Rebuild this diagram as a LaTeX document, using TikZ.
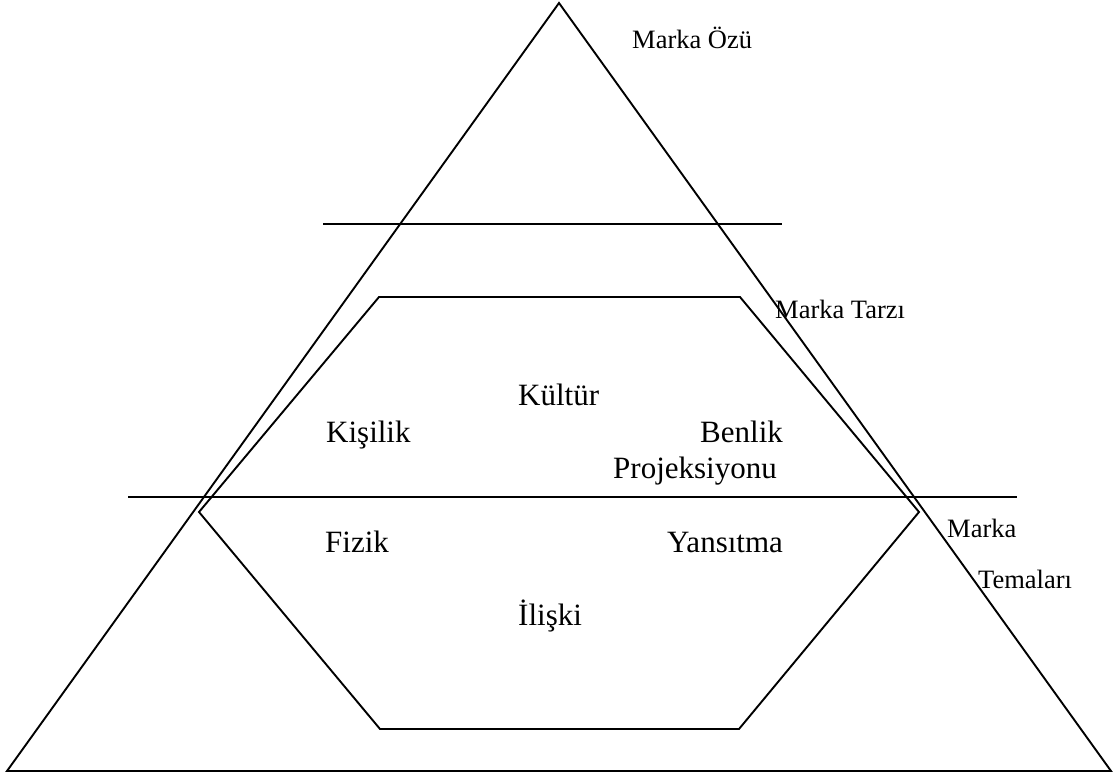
\documentclass[tikz,border=0pt]{standalone}
\usepackage{fontspec}
\setmainfont{Liberation Serif}
\begin{document}
\begin{tikzpicture}[x=1pt,y=-1pt,
  edge/.style={line width=1.9pt,line join=miter},
  biglabel/.style={anchor=base west,inner sep=0pt,font=\rmfamily\fontsize{31}{36}\selectfont},
  smalllabel/.style={anchor=base west,inner sep=0pt,font=\rmfamily\fontsize{26.5}{30}\selectfont}]
\useasboundingbox (0,0) rectangle (1114,779);
% pyramid outline
\coordinate (apex) at (559,3);
\coordinate (bl) at (7,771);
\coordinate (br) at (1111,771);
\draw[edge] (apex) -- (bl) -- (br) -- cycle;
% level separators
\coordinate (s1a) at (323,224);
\coordinate (s1b) at (782,224);
\coordinate (s2a) at (128,497);
\coordinate (s2b) at (1017,497);
\draw[edge] (s1a) -- (s1b);
\draw[edge] (s2a) -- (s2b);
% identity hexagon
\coordinate (h1) at (379,297);
\coordinate (h2) at (740,297);
\coordinate (h3) at (919,512);
\coordinate (h4) at (739,729);
\coordinate (h5) at (380,729);
\coordinate (h6) at (199,512);
\draw[edge] (h1) -- (h2) -- (h3) -- (h4) -- (h5) -- (h6) -- cycle;
% level names
\node[smalllabel] (ozu) at (632,48) {Marka Özü};
\node[smalllabel] (tarz) at (775,318) {Marka Tarzı};
\node[smalllabel] (marka) at (947,537) {Marka};
\node[smalllabel] (tema) at (978,588) {Temaları};
% facets
\node[biglabel] (kultur) at (518,405) {Kültür};
\node[biglabel] (kisilik) at (326,442) {Kişilik};
\node[biglabel] (benlik) at (700,442) {Benlik};
\node[biglabel] (proj) at (613,478) {Projeksiyonu};
\node[biglabel] (fizik) at (325,552) {Fizik};
\node[biglabel] (yans) at (667,552) {Yansıtma};
\node[biglabel] (iliski) at (518,625) {İlişki};
\end{tikzpicture}
\end{document}
